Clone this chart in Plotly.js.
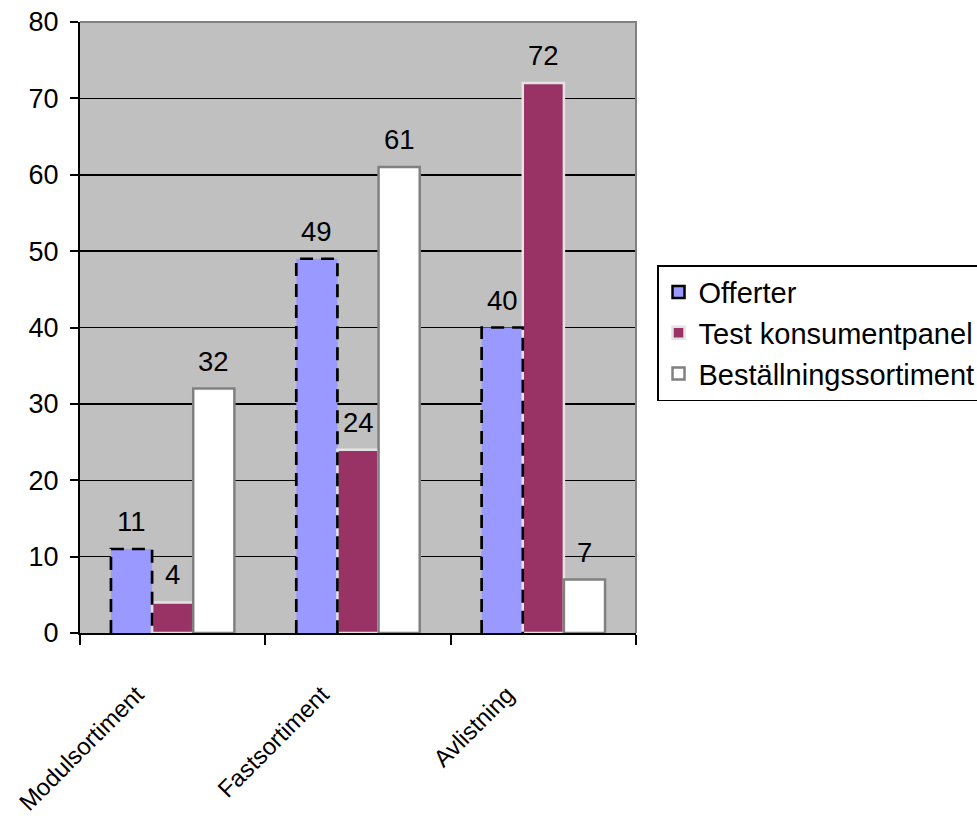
<!DOCTYPE html>
<html>
<head>
<meta charset="utf-8">
<script src="https://cdn.plot.ly/plotly-3.0.1.min.js"></script>
<style>html,body{margin:0;padding:0;background:#fff;}#chart{width:977px;height:816px;}</style>
</head>
<body>
<div id="chart"></div>
<script>
const categories = ["Modulsortiment", "Fastsortiment", "Avlistning"];
const seriesNames = ["Offerter", "Test konsumentpanel", "Beställningssortiment"];
const offerter = [11, 49, 40];
const testKonsumentpanel = [4, 24, 72];
const bestallningssortiment = [32, 61, 7];
const yTickValues = [0, 10, 20, 30, 40, 50, 60, 70, 80];

const FONT = "Liberation Sans, Arial, sans-serif";
const BARGAP = 0.334;
const groupW = 1 - BARGAP;
const barW = groupW / 3;

const seriesValues = [offerter, testKonsumentpanel, bestallningssortiment];

// dashed outline for Offerter bars (positions derived from the data and bar geometry)
const ox = [], oy = [];
categories.forEach((c, i) => {
  const left = i - groupW / 2, right = left + barW;
  ox.push(left, left, right, right, null);
  oy.push(0, offerter[i], offerter[i], 0, null);
});

const traces = [
  { // legend entry for Offerter
    type: "bar", name: seriesNames[0], x: [-5], y: [1], xaxis: "x2", yaxis: "y",
    marker: { color: "#9999ff", line: { color: "#000000", width: 2.5 } },
    hoverinfo: "skip"
  },
  {
    type: "bar", name: seriesNames[0], x: categories, y: offerter, showlegend: false,
    marker: { color: "#9999ff", line: { width: 0 } }
  },
  {
    type: "bar", name: seriesNames[1], x: categories, y: testKonsumentpanel,
    marker: { color: "#993366", line: { color: "#e3e3e3", width: 2.5 } }
  },
  {
    type: "bar", name: seriesNames[2], x: categories, y: bestallningssortiment,
    marker: { color: "#ffffff", line: { color: "#808080", width: 2.5 } }
  },
  {
    type: "scatter", mode: "lines", x: ox, y: oy, xaxis: "x2", yaxis: "y",
    showlegend: false, hoverinfo: "skip", connectgaps: false,
    line: { color: "#000000", width: 2.7, dash: "13px,8px" }
  }
];

const annotations = [];
seriesValues.forEach((vals, k) => {
  vals.forEach((v, i) => {
    annotations.push({
      xref: "x2", yref: "y", x: i + (k - 1) * barW, y: v,
      text: String(v), showarrow: false, yanchor: "bottom", xanchor: "center",
      yshift: 10, font: { family: FONT, size: 27.5, color: "#000" }
    });
  });
});

const layout = {
  width: 977, height: 816,
  margin: { l: 80, r: 341, t: 22, b: 183, autoexpand: false },
  paper_bgcolor: "#ffffff",
  plot_bgcolor: "#c0c0c0",
  barmode: "group",
  bargap: BARGAP,
  bargroupgap: 0,
  font: { family: FONT, size: 27, color: "#000" },
  showlegend: true,
  legend: {
    x: 1.0378, xanchor: "left", y: 0.602, yanchor: "top",
    bgcolor: "#ffffff", bordercolor: "#000000", borderwidth: 1.5,
    font: { family: FONT, size: 29, color: "#000" },
    traceorder: "normal"
  },
  xaxis: {
    type: "category", range: [-0.5, 2.5],
    showline: true, linecolor: "#000", linewidth: 2,
    ticks: "outside", ticklen: 10, tickwidth: 2, tickcolor: "#000",
    tickson: "boundaries", showgrid: false,
    tickangle: -45, tickfont: { family: FONT, size: 24, color: "#000" },
    ticklabelstandoff: 36, ticklabelshift: -36,
    zeroline: false, fixedrange: true
  },
  xaxis2: {
    overlaying: "x", range: [-0.5, 2.5], visible: false, fixedrange: true
  },
  yaxis: {
    range: [0, 80], tickvals: yTickValues,
    showline: true, linecolor: "#000", linewidth: 2,
    ticks: "outside", ticklen: 8, tickwidth: 2, tickcolor: "#000",
    showgrid: true, gridcolor: "#000", gridwidth: 1.5,
    zeroline: false, tickfont: { family: FONT, size: 27, color: "#000" },
    ticklabelstandoff: 6, fixedrange: true
  },
  shapes: [{
    type: "path", xref: "paper", yref: "paper",
    path: "M 0,1 L 1,1 L 1,0", layer: "above",
    line: { color: "#808080", width: 2 }
  }],
  annotations: annotations
};

Plotly.newPlot("chart", traces, layout, { staticPlot: true });
</script>
</body>
</html>
